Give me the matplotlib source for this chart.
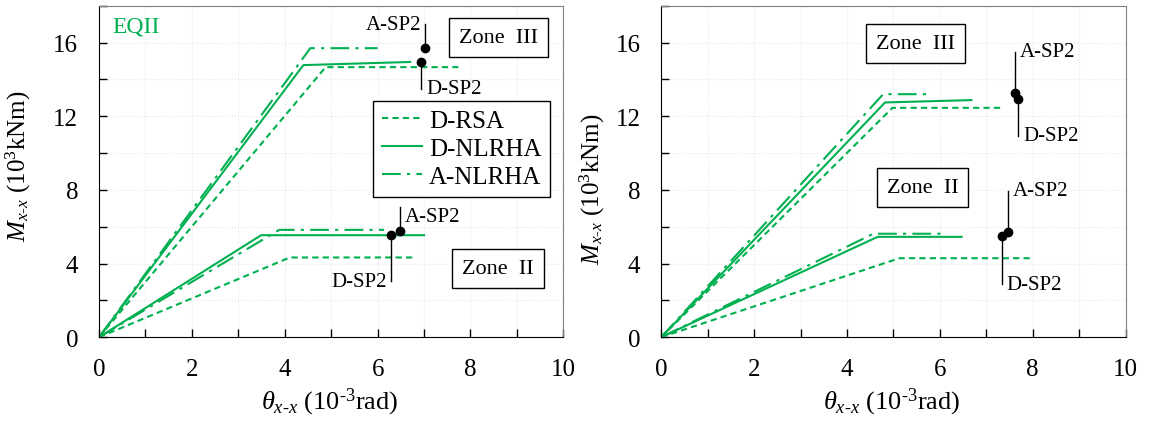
import matplotlib
matplotlib.use("Agg")
import matplotlib.pyplot as plt
from matplotlib.ticker import MultipleLocator

plt.rcParams['font.family'] = 'serif'
plt.rcParams['font.serif'] = ['Liberation Serif', 'DejaVu Serif']
plt.rcParams['mathtext.fontset'] = 'custom'
plt.rcParams['mathtext.rm'] = 'Liberation Serif'
plt.rcParams['mathtext.it'] = 'Liberation Serif:italic'

GREEN = '#00B050'

# left panel: zone III / zone II curves (theta 1e-3 rad, M 1e3 kNm)
L3_rsa_x = [0, 4.88, 7.74]
L3_rsa_y = [0, 14.67, 14.67]
L3_nl_x = [0, 4.40, 6.70]
L3_nl_y = [0, 14.78, 14.95]
L3_anl_x = [0, 4.55, 6.00]
L3_anl_y = [0, 15.70, 15.70]
L2_rsa_x = [0, 4.11, 6.81]
L2_rsa_y = [0, 4.33, 4.33]
L2_nl_x = [0, 3.49, 7.00]
L2_nl_y = [0, 5.54, 5.54]
L2_anl_x = [0, 3.88, 6.14]
L2_anl_y = [0, 5.83, 5.83]

# right panel
R3_rsa_x = [0, 4.98, 7.38]
R3_rsa_y = [0, 12.46, 12.46]
R3_nl_x = [0, 4.82, 6.68]
R3_nl_y = [0, 12.75, 12.88]
R3_anl_x = [0, 4.78, 5.79]
R3_anl_y = [0, 13.20, 13.20]
R2_rsa_x = [0, 5.13, 8.00]
R2_rsa_y = [0, 4.29, 4.29]
R2_nl_x = [0, 4.66, 6.47]
R2_nl_y = [0, 5.45, 5.45]
R2_anl_x = [0, 4.57, 6.07]
R2_anl_y = [0, 5.62, 5.62]

# SP2 points: label, x, y, leader end y, text side, text valign
L_pts = [("A-SP2", 7.03, 15.70, 17.0, 'left', 'center'),
         ("D-SP2", 6.94, 14.95, 13.5, 'right', 'center'),
         ("A-SP2", 6.49, 5.78, 7.05, 'right', 'top'),
         ("D-SP2", 6.29, 5.56, 3.05, 'left', 'center')]
R_pts = [("A-SP2", 7.63, 13.28, 15.5, 'right', 'center'),
         ("D-SP2", 7.69, 12.93, 10.95, 'right', 'center'),
         ("A-SP2", 7.47, 5.69, 7.95, 'right', 'center'),
         ("D-SP2", 7.33, 5.50, 2.88, 'right', 'center')]

fig = plt.figure(figsize=(11.52, 4.27), dpi=100)
axL = fig.add_axes([0.086, 0.208, 0.403, 0.776])
axR = fig.add_axes([0.574, 0.208, 0.403, 0.776])


def draw_panel(ax, curves, pts):
    for (rx, ry, nx, ny, ax_, ay) in curves:
        ax.plot(rx, ry, color=GREEN, lw=1.5, ls=(0, (3, 2)), label='D-RSA')
        ax.plot(nx, ny, color=GREEN, lw=1.5, ls='-', label='D-NLRHA')
        ax.plot(ax_, ay, color=GREEN, lw=1.5, ls=(0, (9, 3, 1.5, 3)), label='A-NLRHA')
    for name, px, py, ye, side, va in pts:
        ax.plot([px, px], [py, ye], color='black', lw=1)
        ax.plot(px, py, 'o', color='black', ms=6, zorder=5)
        if side == 'right':
            ax.text(px + 0.1, ye, name, ha='left', va=va, fontsize=15)
        else:
            ax.text(px - 0.1, ye, name, ha='right', va=va, fontsize=15)
    ax.set_xlim(0, 10)
    ax.set_ylim(0, 18)
    ax.xaxis.set_major_locator(MultipleLocator(2))
    ax.xaxis.set_minor_locator(MultipleLocator(1))
    ax.yaxis.set_major_locator(MultipleLocator(4))
    ax.yaxis.set_minor_locator(MultipleLocator(2))
    ax.tick_params(which='both', direction='in', labelsize=18, length=6, width=1)
    ax.tick_params(axis='x', pad=15)
    ax.tick_params(axis='y', pad=15)
    ax.grid(True, which='both', color='#e6e6e6', lw=0.8, ls=':')
    ax.set_axisbelow(True)
    for s in ['top', 'right']:
        ax.spines[s].set_color('#808080')
    ax.set_xlabel(r'$\theta_{x\text{-}x}$ (10$^{\text{-}3}$rad)', fontsize=19, va='top')
    ax.set_ylabel(r'$M_{x\text{-}x}$ (10$^{3}$kNm)', fontsize=18)
    ax.xaxis.set_label_coords(0.497, -0.145)


draw_panel(axL, [(L3_rsa_x, L3_rsa_y, L3_nl_x, L3_nl_y, L3_anl_x, L3_anl_y),
                 (L2_rsa_x, L2_rsa_y, L2_nl_x, L2_nl_y, L2_anl_x, L2_anl_y)], L_pts)
draw_panel(axR, [(R3_rsa_x, R3_rsa_y, R3_nl_x, R3_nl_y, R3_anl_x, R3_anl_y),
                 (R2_rsa_x, R2_rsa_y, R2_nl_x, R2_nl_y, R2_anl_x, R2_anl_y)], R_pts)
axL.yaxis.set_label_coords(-0.142, 0.52)
axR.yaxis.set_label_coords(-0.116, 0.45)

box = dict(boxstyle='square,pad=0.45', fc='white', ec='black', lw=1)
axL.text(0.86, 0.905, 'Zone  III', transform=axL.transAxes, ha='center', va='center', fontsize=16, bbox=box)
axL.text(0.859, 0.207, 'Zone  II', transform=axL.transAxes, ha='center', va='center', fontsize=16, bbox=box)
axR.text(0.547, 0.887, 'Zone  III', transform=axR.transAxes, ha='center', va='center', fontsize=16, bbox=box)
axR.text(0.563, 0.453, 'Zone  II', transform=axR.transAxes, ha='center', va='center', fontsize=16, bbox=box)
axL.text(0.028, 0.94, 'EQII', transform=axL.transAxes, ha='left', va='center', fontsize=17, color=GREEN)

h, l = axL.get_legend_handles_labels()
leg = axL.legend(h[:3], l[:3], loc='upper right', bbox_to_anchor=(0.972, 0.713), borderaxespad=0,
                 fontsize=18, handlelength=1.6, handletextpad=0.3, labelspacing=0.22,
                 borderpad=0.35, fancybox=False, edgecolor='black', framealpha=1)
leg.get_frame().set_linewidth(1)

fig.savefig('out.png', dpi=100)
